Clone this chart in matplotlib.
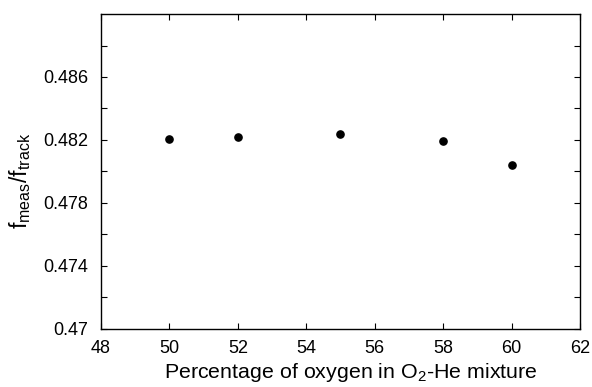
import matplotlib
matplotlib.use('Agg')
import matplotlib.pyplot as plt
from matplotlib.ticker import FixedLocator, MultipleLocator, FuncFormatter

plt.rcParams['font.family'] = ['Liberation Sans', 'DejaVu Sans']
plt.rcParams['mathtext.default'] = 'regular'

oxygen_pct = [50, 52, 55, 58, 60]
freq_ratio = [0.48208, 0.48222, 0.48238, 0.48195, 0.48043]

y_major = [0.470, 0.474, 0.478, 0.482, 0.486]
y_minor = [0.472, 0.476, 0.480, 0.484, 0.488]


def fmt_y(value, pos):
    return ('%.3f' % value).rstrip('0')


figure = plt.figure(figsize=(5.92, 3.87), dpi=100, facecolor='white')
axes = figure.add_axes([0.1706, 0.150, 0.8091, 0.8138])

axes.plot(oxygen_pct, freq_ratio, 'o', color='black', markersize=5.2, linestyle='none')

axes.set_xlim(48, 62)
axes.set_ylim(0.47, 0.490)

axes.xaxis.set_major_locator(MultipleLocator(2))
axes.yaxis.set_major_locator(FixedLocator(y_major))
axes.yaxis.set_minor_locator(FixedLocator(y_minor))
axes.yaxis.set_major_formatter(FuncFormatter(fmt_y))

axes.tick_params(which='both', direction='in', top=True, right=True,
                 length=4, width=0.8, labelsize=13)
axes.tick_params(axis='x', pad=8)
axes.tick_params(axis='y', pad=9)
for spine in axes.spines.values():
    spine.set_linewidth(1.0)

axes.set_xlabel('Percentage of oxygen in O$_2$-He mixture', fontsize=15.4)
axes.xaxis.set_label_coords(0.521, -0.103)
axes.set_ylabel('f$_{meas}$/f$_{track}$', fontsize=16.5)
axes.yaxis.set_label_coords(-0.142, 0.47)

figure.savefig('out.png', dpi=100)
